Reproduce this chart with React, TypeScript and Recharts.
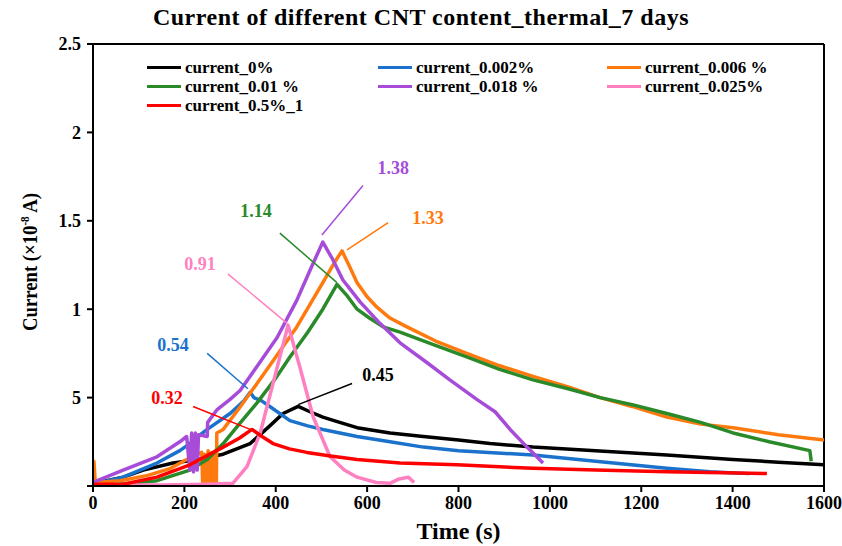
import {
    LineChart,
    Line,
    XAxis,
    YAxis,
    ReferenceLine,
    ReferenceDot
} from "recharts";

// [time (s), current (x1e-8 A)] pairs per CNT content
const current0: [number, number][] = [
    [0, 0.01], [30, 0.03], [66, 0.05], [110, 0.09], [175, 0.13], [230, 0.15],
    [285, 0.18], [344, 0.24], [387, 0.34], [416, 0.41], [449, 0.45], [475, 0.42],
    [503, 0.39], [540, 0.36], [578, 0.33], [650, 0.3], [723, 0.28], [800, 0.26],
    [869, 0.24], [963, 0.22], [1100, 0.2], [1256, 0.175], [1400, 0.15],
    [1500, 0.135], [1600, 0.12]
];

const current0002: [number, number][] = [
    [0, 0.01], [66, 0.05], [140, 0.13], [190, 0.2], [212, 0.24], [230, 0.28],
    [250, 0.32], [300, 0.41], [330, 0.48], [344, 0.53], [352, 0.5], [370, 0.48],
    [387, 0.45], [431, 0.37], [470, 0.34], [503, 0.32], [578, 0.28], [650, 0.25],
    [723, 0.22], [800, 0.2], [963, 0.175], [1100, 0.14], [1256, 0.1], [1350, 0.08],
    [1436, 0.07]
];

const current0006: [number, number][] = [
    [0, 0], [2, 0.14], [5, 0.02], [60, 0.03], [120, 0.06], [170, 0.1], [205, 0.15],
    [238, 0.19], [240, 0.02], [244, 0.18], [248, 0.01], [252, 0.2], [256, 0.01],
    [260, 0.19], [264, 0.02], [268, 0.2], [270, 0.01], [271, 0.3], [285, 0.32],
    [320, 0.44], [359, 0.58], [400, 0.73], [446, 0.9], [503, 1.15], [530, 1.27],
    [545, 1.33], [560, 1.25], [578, 1.15], [600, 1.07], [622, 1.01], [650, 0.95],
    [687, 0.9], [750, 0.82], [818, 0.75], [890, 0.68], [963, 0.62], [1040, 0.56],
    [1110, 0.5], [1180, 0.45], [1256, 0.39], [1330, 0.35], [1401, 0.33],
    [1500, 0.29], [1600, 0.26]
];

const current001: [number, number][] = [
    [0, 0], [60, 0.01], [140, 0.03], [212, 0.09], [250, 0.15], [285, 0.24],
    [320, 0.35], [359, 0.47], [400, 0.61], [431, 0.73], [470, 0.87], [503, 1.0],
    [534, 1.14], [555, 1.08], [578, 1.0], [605, 0.95], [635, 0.9], [672, 0.87],
    [745, 0.8], [818, 0.73], [890, 0.66], [963, 0.6], [1040, 0.55], [1110, 0.5],
    [1180, 0.46], [1256, 0.41], [1330, 0.36], [1401, 0.3], [1480, 0.25],
    [1569, 0.2], [1572, 0.14]
];

const current0018: [number, number][] = [
    [0, 0.02], [66, 0.09], [140, 0.165], [190, 0.25], [205, 0.28], [212, 0.09],
    [216, 0.3], [220, 0.08], [224, 0.3], [228, 0.09], [231, 0.29], [250, 0.28],
    [251, 0.36], [271, 0.43], [300, 0.49], [322, 0.54], [360, 0.68], [403, 0.84],
    [446, 1.05], [475, 1.22], [503, 1.38], [525, 1.28], [547, 1.165], [585, 1.04],
    [628, 0.92], [672, 0.81], [730, 0.7], [781, 0.6], [840, 0.49], [880, 0.42],
    [913, 0.32], [950, 0.22], [985, 0.13]
];

const current0025: [number, number][] = [
    [40, 0.005], [150, 0.005], [250, 0.01], [306, 0.015], [337, 0.11], [366, 0.3],
    [394, 0.58], [427, 0.91], [453, 0.67], [482, 0.39], [519, 0.165], [550, 0.09],
    [578, 0.05], [620, 0.02], [650, 0.015], [670, 0.04], [690, 0.05], [703, 0.02]
];

const current05: [number, number][] = [
    [0, 0.01], [66, 0.01], [140, 0.05], [212, 0.12], [285, 0.22], [320, 0.27],
    [348, 0.32], [370, 0.28], [394, 0.24], [430, 0.21], [468, 0.19], [520, 0.17],
    [578, 0.15], [672, 0.13], [797, 0.12], [963, 0.1], [1100, 0.09], [1256, 0.08],
    [1380, 0.075], [1475, 0.07]
];

const seriesNames = [
    "current_0%", "current_0.002%", "current_0.006 %", "current_0.01 %",
    "current_0.018 %", "current_0.025%", "current_0.5%_1"
];
const seriesColors = [
    "#000000", "#1b72cc", "#ff7a0e", "#2a8a2a", "#a64cd9", "#ff80c0", "#ff0000"
];
const seriesData = [
    current0, current0002, current0006, current001, current0018, current0025, current05
];

const xTicks = [0, 200, 400, 600, 800, 1000, 1200, 1400, 1600];
const yTicks = [0, 0.5, 1, 1.5, 2, 2.5];
const yTickLabels = ["", "5", "1", "1.5", "2", "2.5"];

// peak callouts: value, label position, leader line start/end
const peakLabels = [
    { value: "1.38", color: "#a64cd9", at: [657, 1.8], from: [591, 1.7], to: [501, 1.42] },
    { value: "1.14", color: "#2a8a2a", at: [357, 1.56], from: [409, 1.43], to: [534, 1.15] },
    { value: "1.33", color: "#ff7a0e", at: [733, 1.52], from: [646, 1.49], to: [556, 1.335] },
    { value: "0.91", color: "#ff80c0", at: [234, 1.26], from: [295, 1.2], to: [425, 0.92] },
    { value: "0.54", color: "#1b72cc", at: [175, 0.8], from: [250, 0.75], to: [339, 0.55] },
    { value: "0.32", color: "#ff0000", at: [162, 0.5], from: [219, 0.45], to: [344, 0.32] },
    { value: "0.45", color: "#000000", at: [624, 0.63], from: [567, 0.58], to: [449, 0.46] }
];

const font = "'Liberation Serif', 'Times New Roman', serif";

const YLabel = () => (
    <text
        x={0}
        y={0}
        transform="translate(37, 262) rotate(-90)"
        textAnchor="middle"
        fontFamily={font}
        fontWeight="bold"
        fontSize={22}
        fill="#000"
        textLength={138}
        lengthAdjust="spacingAndGlyphs"
    >
        Current (×10
        <tspan dy={-8} fontSize={13}>-8</tspan>
        <tspan dy={8}> A)</tspan>
    </text>
);

export default function App() {

    const legendCols = [147, 378, 607];

    return (
        <div style={{ position: "absolute", left: 0, top: 0, width: 842, height: 546, background: "#fff" }}>

            <div
                style={{
                    position: "absolute",
                    left: 0,
                    top: 4,
                    width: 842,
                    textAlign: "center",
                    fontFamily: font,
                    fontWeight: "bold",
                    fontSize: 24,
                    letterSpacing: 0.5,
                    whiteSpace: "nowrap"
                }}
            >
                Current of different CNT content_thermal_7 days
            </div>

            <LineChart
                width={842}
                height={546}
                margin={{ top: 44, right: 18, bottom: 0, left: 33 }}
            >
                <XAxis
                    dataKey="t"
                    type="number"
                    domain={[0, 1600]}
                    ticks={xTicks}
                    allowDataOverflow
                    height={60}
                    stroke="#000"
                    strokeWidth={2}
                    tickSize={6}
                    tickMargin={4}
                    tick={{ fill: "#000", fontFamily: font, fontWeight: "bold", fontSize: 18 }}
                    label={{
                        value: "Time (s)",
                        position: "insideBottom",
                        offset: 7,
                        fill: "#000",
                        fontFamily: font,
                        fontWeight: "bold",
                        fontSize: 24
                    }}
                />
                <YAxis
                    type="number"
                    domain={[0, 2.5]}
                    ticks={yTicks}
                    allowDataOverflow
                    width={60}
                    stroke="#000"
                    strokeWidth={2}
                    tickSize={6}
                    tickMargin={6}
                    tickFormatter={(v: number) => yTickLabels[yTicks.indexOf(v)] ?? ""}
                    tick={{ fill: "#000", fontFamily: font, fontWeight: "bold", fontSize: 18 }}
                    label={<YLabel />}
                />

                {/* frame */}
                <ReferenceLine y={2.5} stroke="#000" strokeWidth={2} ifOverflow="visible" />
                <ReferenceLine x={1600} stroke="#000" strokeWidth={2} ifOverflow="visible" />

                {seriesData.map((rows, i) => (
                    <Line
                        key={seriesNames[i]}
                        name={seriesNames[i]}
                        data={rows.map(([t, v]) => ({ t, v }))}
                        dataKey="v"
                        type="linear"
                        stroke={seriesColors[i]}
                        strokeWidth={3.5}
                        strokeLinejoin="round"
                        dot={false}
                        isAnimationActive={false}
                    />
                ))}

                {peakLabels.map((p) => (
                    <ReferenceLine
                        key={"l" + p.value}
                        segment={[{ x: p.from[0], y: p.from[1] }, { x: p.to[0], y: p.to[1] }]}
                        stroke={p.color}
                        strokeWidth={1.5}
                        ifOverflow="visible"
                    />
                ))}
                {peakLabels.map((p) => (
                    <ReferenceDot
                        key={"d" + p.value}
                        x={p.at[0]}
                        y={p.at[1]}
                        r={0}
                        fill="none"
                        stroke="none"
                        ifOverflow="visible"
                        label={{
                            value: p.value,
                            position: "center",
                            fill: p.color,
                            fontFamily: font,
                            fontWeight: "bold",
                            fontSize: 18
                        }}
                    />
                ))}
            </LineChart>

            {/* legend, three columns */}
            {seriesNames.map((name, i) => (
                <div
                    key={name}
                    style={{
                        position: "absolute",
                        left: legendCols[i % 3],
                        top: 58 + Math.floor(i / 3) * 19,
                        height: 19,
                        display: "flex",
                        alignItems: "center",
                        fontFamily: font,
                        fontWeight: "bold",
                        fontSize: 17,
                        whiteSpace: "nowrap"
                    }}
                >
                    <span
                        style={{
                            display: "inline-block",
                            width: 34,
                            height: 3,
                            background: seriesColors[i],
                            marginRight: 4
                        }}
                    />
                    {name}
                </div>
            ))}
        </div>
    );
}
